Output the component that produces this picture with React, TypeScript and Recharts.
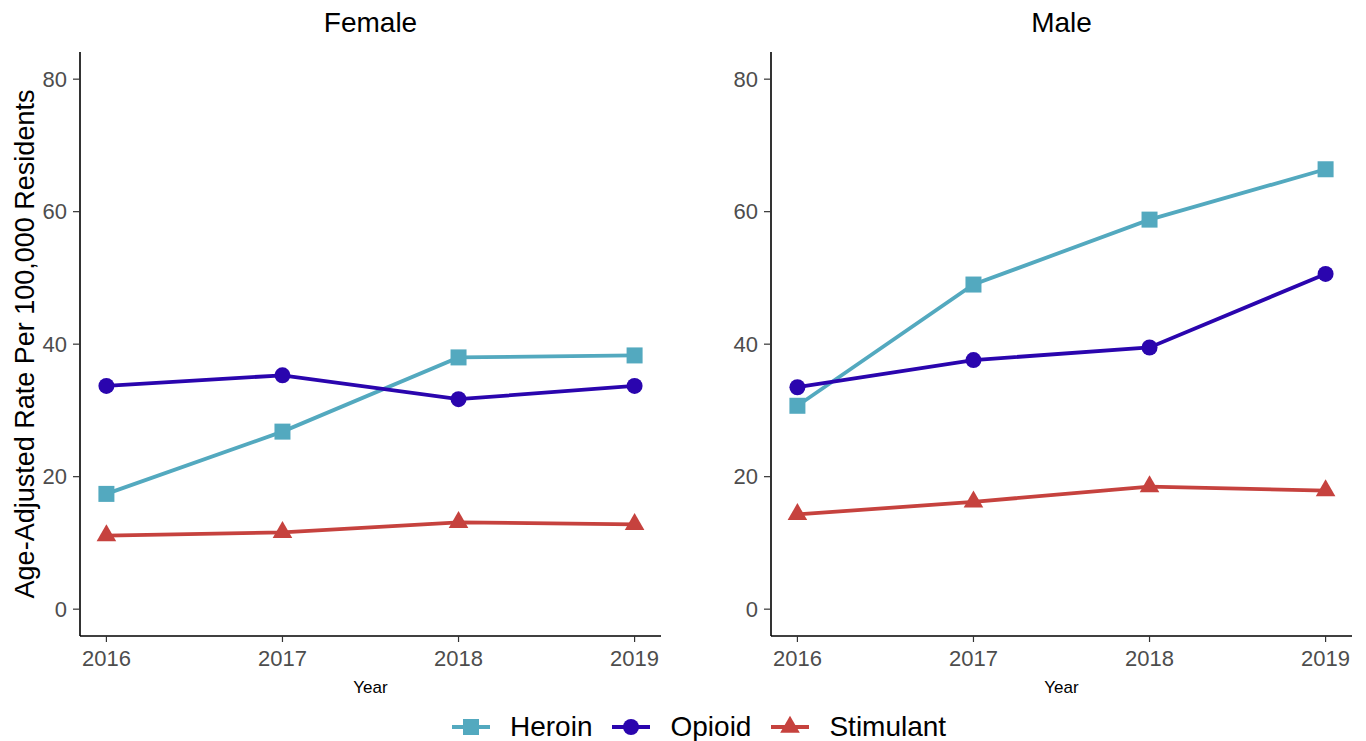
import { LineChart, Line, XAxis, YAxis } from "recharts";

const years = [2016, 2017, 2018, 2019];
const yTicks = [0, 20, 40, 60, 80];

const femaleHeroin = [17.4, 26.8, 38.0, 38.3];
const femaleOpioid = [33.7, 35.3, 31.7, 33.7];
const femaleStimulant = [11.1, 11.6, 13.1, 12.8];

const maleHeroin = [30.7, 49.0, 58.8, 66.4];
const maleOpioid = [33.5, 37.6, 39.5, 50.6];
const maleStimulant = [14.3, 16.2, 18.5, 17.9];

const series = [
  { key: "Heroin", color: "#53A9BF", shape: "square" },
  { key: "Opioid", color: "#2A05AE", shape: "circle" },
  { key: "Stimulant", color: "#C6423E", shape: "triangle" },
];

const femaleData = years.map((year, i) => ({
  year,
  Heroin: femaleHeroin[i],
  Opioid: femaleOpioid[i],
  Stimulant: femaleStimulant[i],
}));

const maleData = years.map((year, i) => ({
  year,
  Heroin: maleHeroin[i],
  Opioid: maleOpioid[i],
  Stimulant: maleStimulant[i],
}));

const FONT = "'Liberation Sans', Arial, sans-serif";

function Marker({ cx, cy, shape, color }: { cx?: number; cy?: number; shape: string; color: string }) {
  if (cx == null || cy == null) return null;
  if (shape === "square") {
    return <rect x={cx - 8} y={cy - 8} width={16} height={16} fill={color} />;
  }
  if (shape === "circle") {
    return <circle cx={cx} cy={cy} r={8} fill={color} />;
  }
  const h = 17;
  const w = 19.6;
  const pts = `${cx},${cy - (2 * h) / 3} ${cx - w / 2},${cy + h / 3} ${cx + w / 2},${cy + h / 3}`;
  return <polygon points={pts} fill={color} />;
}

interface PanelProps {
  title: string;
  data: Record<string, number>[];
  left: number;
  width: number;
  marginRight: number;
  yLabel?: string;
}

function Panel({ title, data, left, width, marginRight, yLabel }: PanelProps) {
  return (
    <div style={{ position: "absolute", left, top: 0, width, height: 741 }}>
      <div
        style={{
          position: "absolute",
          left: 80,
          width: width - 80 - marginRight,
          top: 9,
          textAlign: "center",
          fontSize: 28,
          lineHeight: "28px",
          color: "#000",
        }}
      >
        {title}
      </div>
      <LineChart
        width={width}
        height={741}
        data={data}
        margin={{ top: 52, right: marginRight, bottom: 45, left: 0 }}
      >
        <XAxis
          dataKey="year"
          type="number"
          domain={[2015.85, 2019.15]}
          ticks={years}
          allowDataOverflow
          height={60}
          tickSize={6}
          tickMargin={8}
          axisLine={{ stroke: "#000", strokeWidth: 1.6 }}
          tickLine={{ stroke: "#333", strokeWidth: 1.2 }}
          tick={{ fill: "#4D4D4D", fontSize: 22 }}
          label={{ value: "Year", position: "insideBottom", offset: 3, fill: "#000", fontSize: 17 }}
        />
        <YAxis
          type="number"
          domain={[-4.05, 84.1]}
          ticks={yTicks}
          allowDataOverflow
          width={80}
          tickSize={7}
          tickMargin={6}
          axisLine={{ stroke: "#000", strokeWidth: 1.6 }}
          tickLine={{ stroke: "#333", strokeWidth: 1.2 }}
          tick={{ fill: "#4D4D4D", fontSize: 22 }}
          label={
            yLabel
              ? {
                  value: yLabel,
                  angle: -90,
                  position: "insideLeft",
                  offset: 24,
                  fill: "#000",
                  fontSize: 27,
                  style: { textAnchor: "middle" },
                }
              : undefined
          }
        />
        {series.map((s) => (
          <Line
            key={s.key}
            dataKey={s.key}
            stroke={s.color}
            strokeWidth={3.8}
            isAnimationActive={false}
            dot={(p: any) => (
              <Marker key={`${s.key}-${p.index}`} cx={p.cx} cy={p.cy} shape={s.shape} color={s.color} />
            )}
            activeDot={false}
          />
        ))}
      </LineChart>
    </div>
  );
}

function Legend() {
  return (
    <div
      style={{
        position: "absolute",
        left: 452,
        top: 713,
        display: "flex",
        alignItems: "center",
        fontSize: 28,
        lineHeight: "28px",
        color: "#000",
      }}
    >
      {series.map((s) => (
        <div key={s.key} style={{ display: "flex", alignItems: "center", marginRight: 20 }}>
          <svg width={38} height={24} style={{ marginRight: 20 }}>
            <line x1={0} y1={12} x2={38} y2={12} stroke={s.color} strokeWidth={3.8} />
            <Marker cx={19} cy={12} shape={s.shape} color={s.color} />
          </svg>
          <span>{s.key}</span>
        </div>
      ))}
    </div>
  );
}

export default function App() {
  return (
    <div
      style={{
        position: "absolute",
        left: 0,
        top: 0,
        width: 1366,
        height: 741,
        background: "#fff",
        overflow: "hidden",
        fontFamily: FONT,
      }}
    >
      <Panel
        title="Female"
        data={femaleData}
        left={0}
        width={680}
        marginRight={19}
        yLabel="Age-Adjusted Rate Per 100,000 Residents"
      />
      <Panel title="Male" data={maleData} left={691} width={675} marginRight={14} />
      <Legend />
    </div>
  );
}
